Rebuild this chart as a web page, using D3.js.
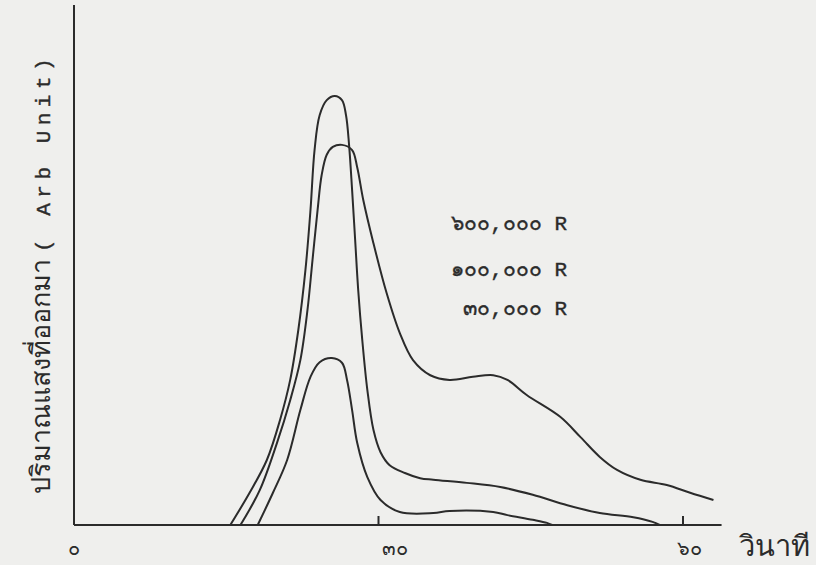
<!DOCTYPE html>
<html>

<head>
    <meta charset="utf-8">
    <title>Glow curves</title>
    <style>
        body { margin: 0; background: #efefed; }
        svg { display: block; }
    </style>
</head>

<body>
    <script type='text/javascript' src='https://d3js.org/d3.v7.min.js'></script>
    <script>
    // time (seconds) and light output (arb. unit) for each curve
    var xA = [15.4, 17.3, 19.0, 20.3, 21.3, 22.1, 22.8, 23.3, 23.7, 24.2, 24.9, 25.7, 26.4, 26.8, 27.1, 27.4, 27.7, 28.0, 28.4, 28.9, 29.5, 30.2, 31.1, 32.6, 34.1, 35.4, 38.7, 42.0, 45.2, 48.6, 51.8, 55.1, 57.0, 57.7];
    var yA = [0, 6.2, 12.5, 20.2, 27.9, 37.5, 49.0, 60.6, 72.1, 78.8, 81.7, 82.5, 81.7, 78.8, 73.1, 64.4, 54.8, 45.2, 35.6, 26.0, 18.3, 14.0, 11.5, 10.0, 9.0, 8.7, 8.1, 7.3, 5.8, 3.8, 2.3, 1.5, 0.6, 0];

    var xB = [16.4, 18.3, 20.0, 21.3, 22.3, 23.0, 23.5, 24.0, 24.4, 24.9, 25.5, 26.4, 27.4, 27.9, 28.5, 29.5, 30.8, 32.1, 33.4, 35.1, 37.0, 39.3, 41.3, 42.7, 44.6, 47.9, 49.9, 51.8, 53.5, 55.8, 58.4, 60.7, 63.0];
    var yB = [0, 6.7, 15.8, 24.0, 31.7, 41.3, 51.0, 60.6, 67.3, 71.2, 72.7, 73.1, 72.1, 68.8, 62.5, 54.2, 44.6, 36.9, 31.7, 28.8, 27.9, 28.5, 28.8, 27.9, 25.0, 20.8, 16.9, 13.1, 10.6, 8.7, 7.7, 6.2, 4.8];

    var xC = [18.1, 19.6, 21.0, 22.3, 23.3, 24.2, 25.4, 26.4, 26.9, 27.4, 27.9, 28.9, 30.2, 32.1, 35.4, 37.0, 41.3, 42.7, 45.2, 46.6, 47.1];
    var yC = [0, 6.2, 12.5, 22.1, 28.5, 31.3, 32.1, 31.2, 27.9, 22.1, 15.8, 9.2, 4.8, 2.5, 2.3, 2.7, 2.5, 1.9, 1.0, 0.4, 0];

    var tickValues = [0, 30, 60];
    var tickLabels = ["๐", "๓๐", "๖๐"];
    var doseLabels = ["๖๐๐,๐๐๐ R", "๑๐๐,๐๐๐ R", "๓๐,๐๐๐ R"];

    const xSize = 816;
    const ySize = 565;

    const svg = d3.select("body")
        .append("svg")
        .attr("width", xSize)
        .attr("height", ySize);

    var x = d3.scaleLinear().domain([0, 60]).range([74, 683]);
    var y = d3.scaleLinear().domain([0, 100]).range([525, 5]);

    var ink = "#2b2b2b";
    var thai = "'Noto Sans', 'DejaVu Sans', sans-serif";
    var mono = "'Liberation Mono', 'DejaVu Sans Mono', monospace";

    // axes drawn by hand, like the paper
    svg.append("line")
        .attr("x1", x(0)).attr("x2", x(0))
        .attr("y1", y(100)).attr("y2", y(0))
        .attr("stroke", ink).attr("stroke-width", 2);
    svg.append("line")
        .attr("x1", x(0)).attr("x2", x(63.8))
        .attr("y1", y(0)).attr("y2", y(0))
        .attr("stroke", ink).attr("stroke-width", 2);

    svg.selectAll(".tick")
        .data([30, 60])
        .enter()
        .append("line")
        .attr("class", "tick")
        .attr("x1", function(d) { return x(d); })
        .attr("x2", function(d) { return x(d); })
        .attr("y1", y(0))
        .attr("y2", y(0) - 9)
        .attr("stroke", ink).attr("stroke-width", 2);

    // tick labels sit a bit right of their ticks on the original
    var labelShift = [0, 16, 6];
    svg.selectAll(".tlabel")
        .data(tickValues)
        .enter()
        .append("text")
        .attr("class", "tlabel")
        .attr("x", function(d, i) { return x(d) + labelShift[i]; })
        .attr("y", 555)
        .attr("text-anchor", "middle")
        .attr("font-family", thai)
        .attr("font-size", 20)
        .attr("fill", ink)
        .text(function(d, i) { return tickLabels[i]; });

    svg.append("text")
        .attr("x", 739)
        .attr("y", 556)
        .attr("font-family", thai)
        .attr("font-size", 29)
        .attr("fill", ink)
        .text("วินาที");

    // y label: thai part in a sans, the latin part typewriter-spaced
    var ylab = svg.append("text")
        .attr("transform", "translate(50,494) rotate(-90)")
        .attr("fill", ink);
    ylab.append("tspan")
        .attr("font-family", thai)
        .attr("font-size", 27)
        .text("ปริมาณแสงที่ออกมา ");
    ylab.append("tspan")
        .attr("font-family", mono)
        .attr("font-size", 21)
        .attr("letter-spacing", 5.5)
        .attr("stroke", ink)
        .attr("stroke-width", 0.4)
        .text("( Arb Unit)");

    // curves
    var line = d3.line()
        .x(function(d) { return x(d[0]); })
        .y(function(d) { return y(d[1]); })
        .curve(d3.curveCatmullRom.alpha(0.5));

    var curves = [d3.zip(xB, yB), d3.zip(xA, yA), d3.zip(xC, yC)];

    svg.selectAll(".curve")
        .data(curves)
        .enter()
        .append("path")
        .attr("class", "curve")
        .attr("d", line)
        .attr("fill", "none")
        .attr("stroke", ink)
        .attr("stroke-width", 2);

    svg.selectAll(".dose")
        .data(doseLabels)
        .enter()
        .append("text")
        .attr("class", "dose")
        .attr("x", 567)
        .attr("y", function(d, i) { return [230, 276, 315][i]; })
        .attr("text-anchor", "end")
        .attr("font-family", mono)
        .attr("font-size", 21)
        .attr("stroke", ink)
        .attr("stroke-width", 0.4)
        .attr("fill", ink)
        .text(function(d) { return d; });
    </script>
</body>

</html>
